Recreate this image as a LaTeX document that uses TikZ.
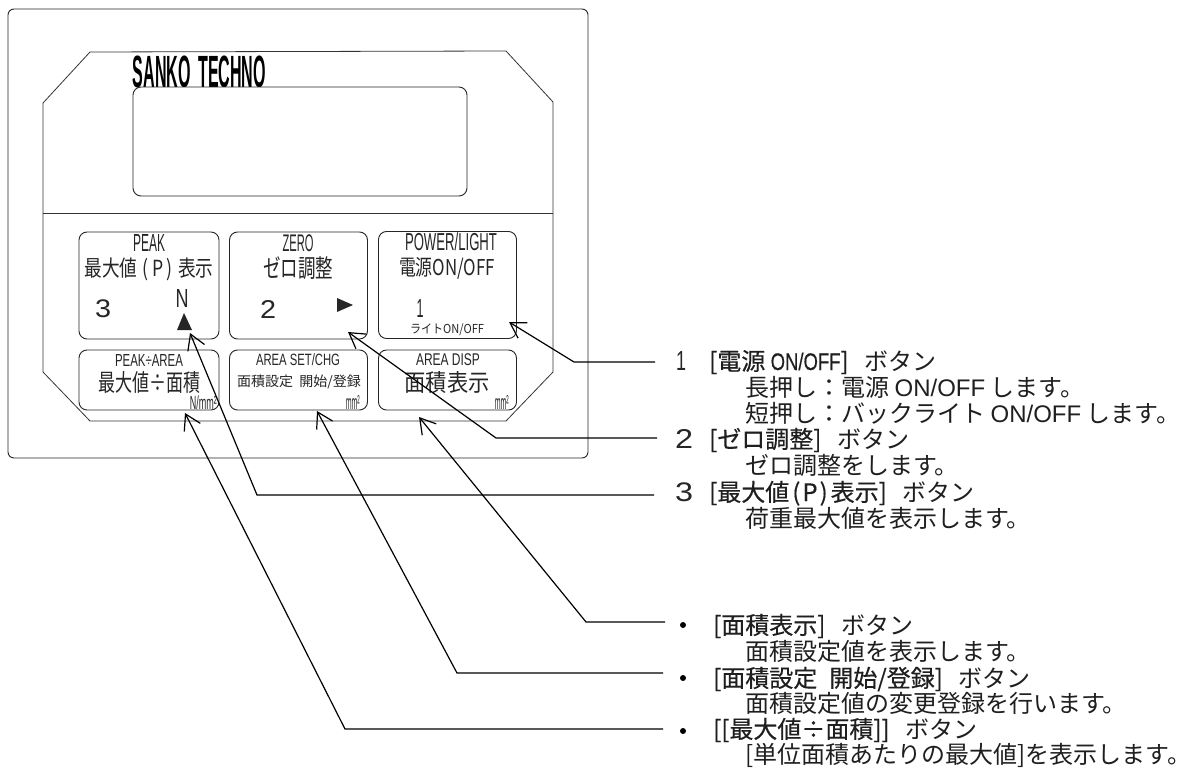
\documentclass[tikz,border=0pt]{standalone}
\usepackage{fontspec}
\usepackage{graphicx}
\usetikzlibrary{arrows.meta}
\setmainfont{Liberation Sans}
\newfontfamily\jpf{Noto Sans CJK JP}
\newfontfamily\jph[FakeBold=0.4]{Noto Sans CJK JP}
\newfontfamily\lath[FakeBold=0.4]{Liberation Sans}
\newcommand{\fitbox}[3]{\resizebox*{#1pt}{#2pt}{#3}}
\newcommand{\hl}[1]{\scalebox{0.77}[1]{\lath #1}}
\newcommand{\gapb}{\hspace{16pt}}
\newcommand{\pp}{\hspace{3pt}(\hspace{2pt}P\hspace{2pt})\hspace{3pt}}
\newcommand{\zcolon}{\symbol{"FF1A}}
\tikzset{
  panel/.style={draw=black!80,line width=0.8pt},
  btn/.style={draw=black!85,line width=0.9pt,rounded corners=8pt,inner sep=0pt},
  lbl/.style={inner sep=0pt,anchor=center,text=black!85},
  row/.style={inner sep=0pt,anchor=west,text=black!88,text height=21pt,text depth=3pt,font={\fontsize{24}{26}\selectfont\jpf}},
  callout/.style={draw=black,line width=1.2pt,{Straight Barb[length=15pt,width=18pt,line width=1.2pt]}-},
  tri/.style={fill=black!85,draw=none}
}
\begin{document}
\begin{tikzpicture}[x=1pt,y=-1pt]
\useasboundingbox[fill=white] (0,0) rectangle (1182,768);
% case and panel
\node[draw=black!85,line width=0.9pt,rounded corners=6pt,minimum width=580pt,minimum height=449pt,inner sep=0pt] (case) at (298,233.5) {};
\draw[panel] (90,52) -- (506,51) -- (553,102) -- (553,372) -- (506,421) -- (90,421) -- (43,372) -- (43,103) -- cycle;
\draw[panel] (43,213) -- (553,213);
\node[lbl,text=black] (brand) at (199.5,72) {\fitbox{133}{32}{\bfseries SANKO\hspace{0.45em}TECHNO}};
\node[draw=black!85,line width=0.9pt,rounded corners=8pt,fill=white,minimum width=334pt,minimum height=109pt,inner sep=0pt] (display) at (300,141.5) {};
% buttons
\node[btn,minimum width=140pt,minimum height=107pt] (bPeak) at (149,285.5) {};
\node[btn,minimum width=138pt,minimum height=107pt] (bZero) at (298.5,285.5) {};
\node[btn,minimum width=138pt,minimum height=107pt] (bPow) at (447.5,285) {};
\node[btn,minimum width=140pt,minimum height=60pt] (bRatio) at (149,380) {};
\node[btn,minimum width=138pt,minimum height=60pt] (bSet) at (298.5,380) {};
\node[btn,minimum width=138pt,minimum height=60pt] (bDisp) at (447.5,380) {};
% button labels
\node[lbl] (t1) at (149,243) {\fitbox{32}{17}{PEAK}};
\node[lbl] (t2) at (149,269) {\fitbox{129}{23}{\jpf 最大値\pp 表示}};
\node[lbl] (t3) at (103,309) {\fitbox{16}{18}{3}};
\node[lbl] (t4) at (182,298) {\fitbox{13}{18}{N}};
\node[lbl] (t5) at (298,243) {\fitbox{31}{17}{ZERO}};
\node[lbl] (t6) at (298,268) {\fitbox{70}{23}{\jpf ゼロ調整}};
\node[lbl] (t7) at (268,309) {\fitbox{16}{18}{2}};
\node[lbl] (t8) at (451,242) {\fitbox{92}{18}{POWER/LIGHT}};
\node[lbl] (t9) at (447,268) {\fitbox{96}{22}{\jpf 電源ON/OFF}};
\node[lbl] (t10) at (420,308) {\fitbox{7}{18}{1}};
\node[lbl] (t11) at (447,330) {\fitbox{74}{12}{\jpf ライトON/OFF}};
\node[lbl] (t12) at (149,360) {\fitbox{68}{12}{PEAK÷AREA}};
\node[lbl] (t13) at (149,382) {\fitbox{102}{22}{\jpf 最大値÷面積}};
\node[lbl,anchor=east] (t14) at (217,403) {\fitbox{27}{14}{N/mm²}};
\node[lbl] (t15) at (298,360) {\fitbox{84}{12}{AREA SET/CHG}};
\node[lbl] (t16) at (299,382) {\fitbox{124}{14}{\jpf 面積設定\ \ 開始/登録}};
\node[lbl,anchor=east] (t17) at (360,402) {\fitbox{14}{14}{mm²}};
\node[lbl] (t18) at (448,360) {\fitbox{64}{12}{AREA DISP}};
\node[lbl] (t19) at (447,382) {\fitbox{85}{22}{\jpf 面積表示}};
\node[lbl,anchor=east] (t20) at (509,402) {\fitbox{14}{14}{mm²}};
\draw[tri] (184,313) -- (192,330) -- (177,330) -- cycle;
\draw[tri] (337,298) -- (353,305) -- (337,312) -- cycle;
% callout anchors
\coordinate (tip1) at (509,322); \coordinate (elb1) at (574,362); \coordinate (end1) at (655,362);
\coordinate (tip2) at (348,332); \coordinate (elb2) at (496,438); \coordinate (end2) at (657,438);
\coordinate (tip3) at (190,333); \coordinate (elb3) at (257,495); \coordinate (end3) at (654,495);
\coordinate (tip4) at (419,417); \coordinate (elb4) at (586,622); \coordinate (end4) at (665,622);
\coordinate (tip5) at (317,411); \coordinate (elb5) at (457,673); \coordinate (end5) at (663,673);
\coordinate (tip6) at (185,413); \coordinate (elb6) at (345,729); \coordinate (end6) at (663,729);
\foreach \i in {1,...,6} \draw[callout] (tip\i) -- (elb\i) -- (end\i);
% description rows
\node[lbl] (n1) at (681,361) {\fitbox{10}{19}{1}};
\node[row] (r1) at (709,361) {{\jph [電源 }\hl{ON/OFF}{\jph ]}\gapb ボタン};
\node[row] (r1a) at (745,387) {長押し\zcolon 電源 {\fontspec{Liberation Sans}ON/OFF} します。};
\node[row] (r1b) at (745,413) {短押し\zcolon バックライト {\fontspec{Liberation Sans}ON/OFF} します。};
\node[lbl] (n2) at (684,439) {\fitbox{18}{19}{2}};
\node[row] (r2) at (709,439) {{\jph [ゼロ調整]}\gapb ボタン};
\node[row] (r2a) at (745,465) {ゼロ調整をします。};
\node[lbl] (n3) at (684,492) {\fitbox{18}{19}{3}};
\node[row] (r3) at (709,492) {{\jph [最大値\pp 表示]}\gapb ボタン};
\node[row] (r3a) at (745,518) {荷重最大値を表示します。};
\fill[black] (683,625) circle (3pt);
\fill[black] (683,678) circle (3pt);
\fill[black] (683,731) circle (3pt);
\node[row] (r4) at (713,625) {{\jph [面積表示]}\gapb ボタン};
\node[row] (r4a) at (745,651) {面積設定値を表示します。};
\node[row] (r5) at (713,678) {{\jph [面積設定\hspace{12pt}開始/登録]}\gapb ボタン};
\node[row] (r5a) at (745,703) {面積設定値の変更登録を行います。};
\node[row] (r6) at (713,729) {{\jph [[最大値÷面積]]}\gapb ボタン};
\node[row] (r6a) at (745,754) {[単位面積あたりの最大値]を表示します。};
\end{tikzpicture}
\end{document}
